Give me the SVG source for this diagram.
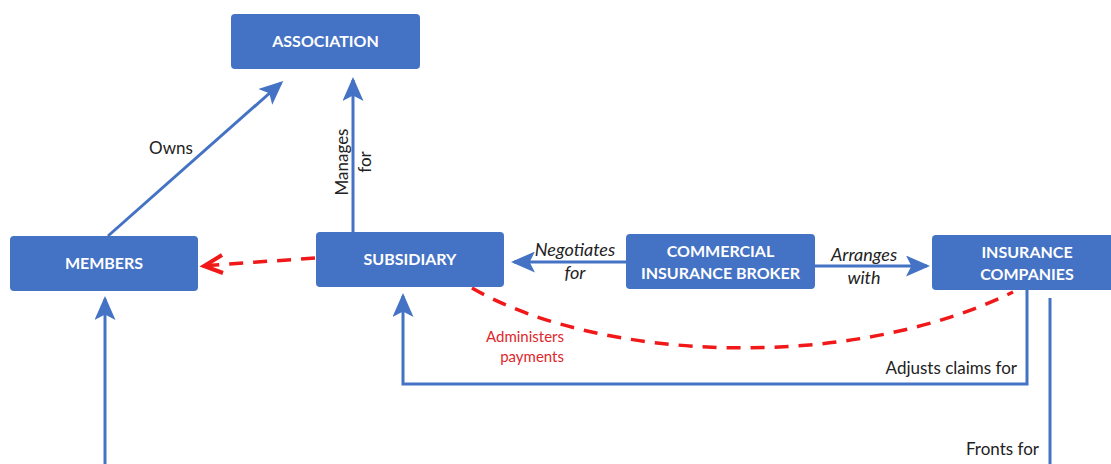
<svg xmlns="http://www.w3.org/2000/svg" width="1111" height="464" viewBox="0 0 1111 464">
<style>
.box{fill:#4472C4;}
.bt{font-family:Lato,"Liberation Sans",sans-serif;font-weight:bold;font-size:16px;fill:#fff;text-anchor:middle;}
.lbl{font-family:Lato,"Liberation Sans",sans-serif;font-size:17px;fill:#222;}
.it{font-style:italic;text-anchor:middle;font-size:18px;}
.red{fill:#E0262B;text-anchor:end;font-size:15px;}
.ln{fill:none;stroke:#4472C4;stroke-width:3;}
.dash{fill:none;stroke:#F01818;stroke-width:3.5;stroke-dasharray:14 10;}
</style>
<defs>
<marker id="ah" markerWidth="8" markerHeight="7" refX="7" refY="3.5" orient="auto" markerUnits="strokeWidth">
<path d="M0,0 L8,3.5 L0,7 L1.8,3.5 Z" fill="#4472C4"/>
</marker>
</defs>
<rect width="1111" height="464" fill="#fff"/>
<g id="connectors">
<line class="ln" x1="108" y1="236" x2="281" y2="83" marker-end="url(#ah)"/>
<line class="ln" x1="353" y1="232" x2="353" y2="80" marker-end="url(#ah)"/>
<line class="ln" x1="626" y1="262" x2="514" y2="262" marker-end="url(#ah)"/>
<line class="ln" x1="815" y1="266" x2="927" y2="266" marker-end="url(#ah)"/>
<polyline class="ln" points="1027,290 1027,384 403,384 403,296" marker-end="url(#ah)"/>
<line class="ln" x1="1050" y1="298" x2="1050" y2="464"/>
<line class="ln" x1="105" y1="464" x2="105" y2="299" marker-end="url(#ah)"/>
<path class="dash" d="M315,258 L208,265.5"/>
<polyline points="222,255 204,266 223,273" fill="none" stroke="#F01818" stroke-width="4" stroke-linejoin="miter"/>
<path class="dash" d="M472,288 C600,362 850,372 1013,292"/>
</g>
<g id="association"><rect class="box" x="231" y="14" width="189" height="55" rx="4"/><text class="bt" x="325.5" y="47">ASSOCIATION</text></g>
<g id="members"><rect class="box" x="10" y="236" width="188" height="55" rx="4"/><text class="bt" x="104" y="269">MEMBERS</text></g>
<g id="subsidiary"><rect class="box" x="316" y="232" width="188" height="55" rx="4"/><text class="bt" x="410" y="265">SUBSIDIARY</text></g>
<g id="broker"><rect class="box" x="626" y="234" width="189" height="55" rx="4"/><text class="bt" x="720.5" y="257">COMMERCIAL</text><text class="bt" x="720.5" y="279">INSURANCE BROKER</text></g>
<g id="insurance"><rect class="box" x="932" y="235" width="190" height="55" rx="4"/><text class="bt" x="1027" y="258">INSURANCE</text><text class="bt" x="1027" y="280">COMPANIES</text></g>
<g id="labels">
<text class="lbl" x="171" y="154" text-anchor="middle">Owns</text>
<text class="lbl" transform="translate(348,162) rotate(-90)" text-anchor="middle">Manages</text>
<text class="lbl" transform="translate(371,162) rotate(-90)" text-anchor="middle">for</text>
<text class="lbl it" x="575" y="256">Negotiates</text>
<text class="lbl it" x="575" y="279">for</text>
<text class="lbl it" x="864" y="261">Arranges</text>
<text class="lbl it" x="864" y="284">with</text>
<text class="lbl red" x="564" y="342">Administers</text>
<text class="lbl red" x="564" y="362">payments</text>
<text class="lbl" x="1017" y="374" text-anchor="end">Adjusts claims for</text>
<text class="lbl" x="1039" y="455" text-anchor="end">Fronts for</text>
</g>
</svg>
